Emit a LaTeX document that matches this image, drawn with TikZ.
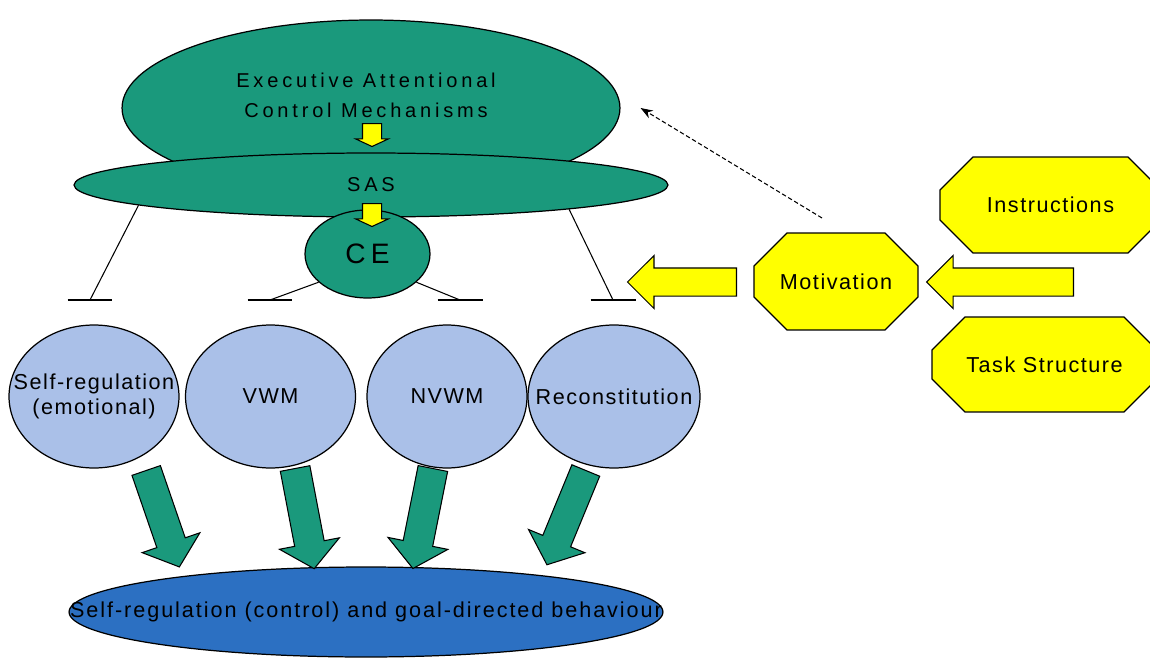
\documentclass[tikz,border=0pt]{standalone}
\usepackage{fontspec}
\setmainfont{Liberation Sans}
\newfontfamily\lblfont[LetterSpace=19]{Liberation Sans}
\newfontfamily\wmfont[LetterSpace=7]{Liberation Sans}
\newfontfamily\behfont[LetterSpace=9]{Liberation Sans}
\usetikzlibrary{shapes.geometric, shapes.arrows, shapes.misc, arrows.meta}
\definecolor{eacgreen}{RGB}{26,153,124}
\definecolor{wmblue}{RGB}{170,192,232}
\definecolor{behblue}{RGB}{44,112,194}
\definecolor{motyellow}{RGB}{255,255,0}
\tikzset{
  bigtxt/.style={font={\lblfont\fontsize{11.4}{17}\selectfont}, align=center},
  smalltxt/.style={font={\wmfont\fontsize{12.3}{14.2}\selectfont}, align=center},
  oval/.style={ellipse, draw=black, line width=0.7pt, inner sep=0pt},
  execoval/.style={oval, fill=eacgreen},
  wmoval/.style={oval, fill=wmblue, minimum width=3.4cm, minimum height=2.86cm},
  octa/.style={chamfered rectangle, draw=black, line width=0.7pt, fill=motyellow, smalltxt,
    chamfered rectangle xsep=0.64cm, chamfered rectangle ysep=0.5cm, inner sep=0pt},
  fatarrow/.style={single arrow, draw=black, line width=0.6pt, inner xsep=0pt, anchor=tail},
  inhib/.style={line width=0.6pt}
}
\begin{document}
\begin{tikzpicture}[x=0.02cm, y=-0.02cm]
\clip (0,0) rectangle (1150,659);
%executive ovals
    \node[execoval, minimum width=9.96cm, minimum height=3.52cm] (eacm) at (371,108) {};
    \node[execoval, bigtxt, minimum width=11.88cm, minimum height=1.28cm] (sas) at (371,185) {SAS};
    \node[execoval, bigtxt, font={\lblfont\fontsize{16}{18}\selectfont}, minimum width=2.5cm, minimum height=1.76cm] (ce) at (367.5,254) {CE};
    \node[bigtxt] (eacmtxt) at (366,95) {Executive Attentional\\Control Mechanisms};
%small arrows
    \node[fatarrow, fill=motyellow, rotate=-90, minimum height=0.46cm, inner ysep=0.18cm,
      single arrow head extend=0.14cm, single arrow tip angle=130] (ya) at (372,123) {};
    \node[fatarrow, fill=motyellow, rotate=-90, minimum height=0.46cm, inner ysep=0.18cm,
      single arrow head extend=0.14cm, single arrow tip angle=130] (yb) at (372,203) {};
%inhibition
    \coordinate (ia) at (90,300); \coordinate (ib) at (270,300);
    \coordinate (ic) at (460,300); \coordinate (id) at (613,300);
    \foreach \s/\e in {sas.185/ia, ce.210/ib, ce.330/ic, sas.353/id}{
      \draw[inhib] (\s) -- (\e);
      \draw[inhib] ([xshift=-0.45cm]\e) -- ([xshift=0.45cm]\e);
    }
%working memory ovals
    \node[wmoval] (se) at (94,396.5) {};
    \node[wmoval] (vwm) at (270.5,396.5) {};
    \node[wmoval, minimum width=3.2cm] (nvwm) at (447,396.5) {};
    \node[wmoval, minimum width=3.44cm] (rec) at (614,396.5) {};
    \node[smalltxt] (setxt) at (se) {Self-regulation\\(emotional)};
    \node[smalltxt] (vwmtxt) at (vwm) {VWM};
    \node[smalltxt] (nvwmtxt) at (nvwm) {NVWM};
    \node[smalltxt] (rectxt) at (rec) {Reconstitution};
%behaviour
    \node[oval, fill=behblue, minimum width=11.88cm, minimum height=1.8cm] (beh) at (366,612) {};
    \node[font={\behfont\fontsize{12.3}{14.2}\selectfont}] (behtxt) at (beh) {Self-regulation (control) and goal-directed behaviour};
%green arrows
    \foreach \p/\r [count=\i] in {{(146,470)}/-71, {(295,468)}/-79.2, {(433,468)}/-101.3, {(586,470)}/-112.4}{
      \node[fatarrow, fill=eacgreen, rotate=\r, minimum height=2.04cm, inner ysep=0.29cm,
        single arrow head extend=0.31cm, single arrow tip angle=100] (g\i) at \p {};
    }
%motivation
    \node[octa, minimum width=3.28cm, minimum height=1.94cm] (mot) at (836,281.5) {Motivation};
    \node[octa, minimum width=4.42cm, minimum height=1.92cm] (ins) at (1050.5,205) {Instructions};
    \node[octa, minimum width=4.5cm, minimum height=1.9cm] (task) at (1044.5,364.5) {Task Structure};
    \node[fatarrow, fill=motyellow, rotate=180, minimum height=2.18cm, inner ysep=0.27cm,
      single arrow head extend=0.25cm] (ym) at (737,282) {};
    \node[fatarrow, fill=motyellow, rotate=180, minimum height=2.94cm, inner ysep=0.27cm,
      single arrow head extend=0.25cm] (yi) at (1074,282) {};
%dashed
    \coordinate (dtail) at (822,218);
    \draw[line width=0.6pt, dash pattern=on 2.5pt off 1.5pt, -{Stealth[length=7pt, width=5pt]}] (dtail) -- ([xshift=0.4cm]eacm.east);
\end{tikzpicture}
\end{document}
